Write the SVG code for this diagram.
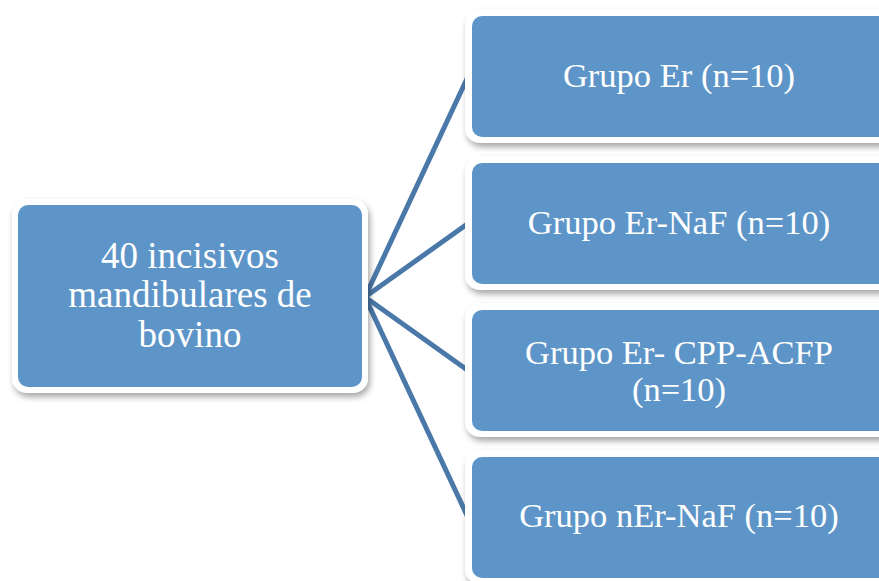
<svg xmlns="http://www.w3.org/2000/svg" width="879" height="581" viewBox="0 0 879 581">
<defs>
<filter id="sh" x="-10%" y="-20%" width="130%" height="150%">
<feDropShadow dx="2" dy="4" stdDeviation="3" flood-color="#000" flood-opacity="0.35"/>
</filter>
<style>
.frame{fill:#ffffff;filter:url(#sh);}
.box{fill:#5e95c8;}
.lbl{font-family:"Liberation Serif","Times New Roman",serif;font-size:34.5px;fill:#ffffff;text-anchor:middle;}
.big{font-size:37px;}
.con{stroke:#4a79a9;stroke-width:5;fill:none;}
</style>
</defs>
<rect width="879" height="581" fill="#ffffff"/>
<g id="connectors">
<line class="con" x1="365" y1="297" x2="468" y2="76.5"/>
<line class="con" x1="365" y1="297" x2="468" y2="223.5"/>
<line class="con" x1="365" y1="297" x2="468" y2="370.5"/>
<line class="con" x1="365" y1="297" x2="468" y2="517.5"/>
</g>
<g id="source">
<rect class="frame" x="12" y="199" width="356" height="194" rx="15"/>
<rect class="box" x="18" y="205" width="344" height="182" rx="10"/>
<text class="lbl big" x="190" y="268">40 incisivos</text>
<text class="lbl big" x="190" y="307">mandibulares de</text>
<text class="lbl big" x="190" y="347">bovino</text>
</g>
<g id="g1">
<rect class="frame" x="465" y="9" width="434" height="134" rx="15"/>
<rect class="box" x="472" y="16" width="420" height="121" rx="10"/>
<text class="lbl" x="679" y="87">Grupo Er (n=10)</text>
</g>
<g id="g2">
<rect class="frame" x="465" y="156" width="434" height="134" rx="15"/>
<rect class="box" x="472" y="163" width="420" height="121" rx="10"/>
<text class="lbl" x="679" y="234">Grupo Er-NaF (n=10)</text>
</g>
<g id="g3">
<rect class="frame" x="465" y="303" width="434" height="134" rx="15"/>
<rect class="box" x="472" y="310" width="420" height="121" rx="10"/>
<text class="lbl" x="679" y="364">Grupo Er- CPP-ACFP</text>
<text class="lbl" x="679" y="401">(n=10)</text>
</g>
<g id="g4">
<rect class="frame" x="465" y="450" width="434" height="134" rx="15"/>
<rect class="box" x="472" y="457" width="420" height="121" rx="10"/>
<text class="lbl" x="679" y="527">Grupo nEr-NaF (n=10)</text>
</g>
</svg>
